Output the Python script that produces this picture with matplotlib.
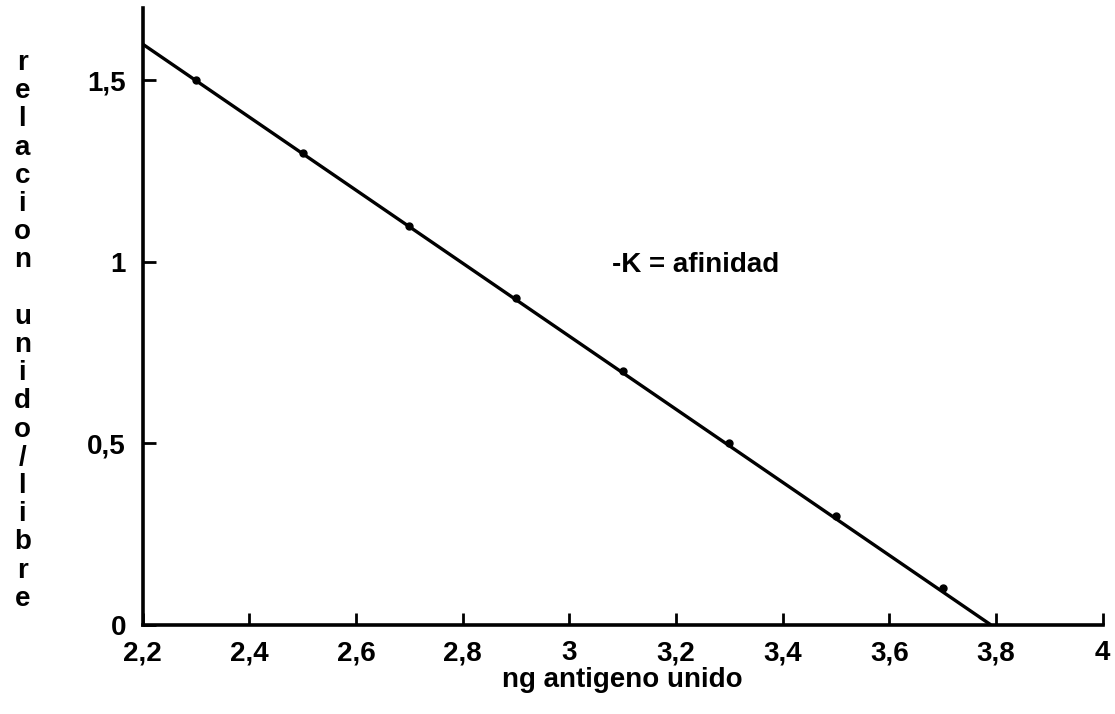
import matplotlib.pyplot as plt

# puntos experimentales (Scatchard)
antigeno = [2.3, 2.5, 2.7, 2.9, 3.1, 3.3, 3.5, 3.7]
relacion = [1.5, 1.3, 1.1, 0.9, 0.7, 0.5, 0.3, 0.1]

# recta ajustada
recta_x = [2.2, 3.79]
recta_y = [1.6, 0.0]

xticks = [2.2, 2.4, 2.6, 2.8, 3.0, 3.2, 3.4, 3.6, 3.8, 4.0]
xlabels = ["2,2", "2,4", "2,6", "2,8", "3", "3,2", "3,4", "3,6", "3,8", "4"]
yticks = [0, 0.5, 1, 1.5]
ylabels = ["0", "0,5", "1", "1,5"]

plt.rcParams['font.family'] = ['Liberation Sans', 'DejaVu Sans']
plt.rcParams['font.weight'] = 'bold'

fig = plt.figure(figsize=(11.15, 7.14), dpi=100)
ax = fig.add_axes([0.128, 0.125, 0.861, 0.864])

ax.plot(recta_x, recta_y, color='black', lw=2.4, solid_capstyle='butt')
ax.plot(antigeno, relacion, 'o', color='black', ms=5)

ax.set_xlim(2.2, 4.0)
ax.set_ylim(0, 1.70)

for s in ['top', 'right']:
    ax.spines[s].set_visible(False)
for s in ['left', 'bottom']:
    ax.spines[s].set_linewidth(2.6)

ax.set_xticks(xticks)
ax.set_xticklabels(xlabels)
ax.set_yticks(yticks)
ax.set_yticklabels(ylabels)
ax.tick_params(direction='in', length=9, width=2, labelsize=20)
ax.tick_params(axis='x', pad=11)
ax.tick_params(axis='y', pad=12)

ax.text(3.08, 0.99, "-K = afinidad", fontsize=20, fontweight='bold',
        ha='left', va='center')

ax.set_xlabel("ng antigeno unido", fontsize=20, fontweight='bold', labelpad=1)

# etiqueta vertical con letras apiladas
etiqueta = "relacion unido/libre"
fig.text(0.02, 0.93, "\n".join(etiqueta), fontsize=20, fontweight='bold',
         ha='center', va='top', linespacing=1.11)

fig.savefig("out.png", dpi=100, facecolor='white')
